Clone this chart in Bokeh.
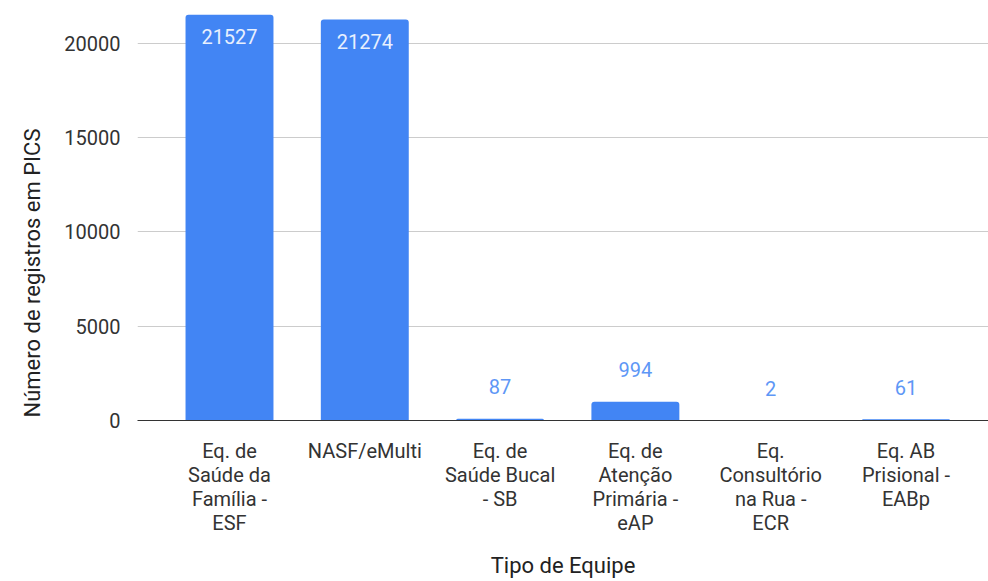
from bokeh.plotting import figure
from bokeh.models import ColumnDataSource, Range1d, FixedTicker, LabelSet, Title
from bokeh.core.properties import value
from bokeh.embed import file_html
from bokeh.resources import INLINE

categories = [
    "Eq. de\nSaúde da\nFamília -\nESF",
    "NASF/eMulti",
    "Eq. de\nSaúde Bucal\n- SB",
    "Eq. de\nAtenção\nPrimária -\neAP",
    "Eq.\nConsultório\nna Rua -\nECR",
    "Eq. AB\nPrisional -\nEABp",
]
values = [21527, 21274, 87, 994, 2, 61]
y_ticks = [0, 5000, 10000, 15000, 20000]
y_title = "Número de registros em PICS"
x_title = "Tipo de Equipe"

FONT = "Roboto"
BAR = "#4285F4"

xs = list(range(len(categories)))
src = ColumnDataSource(dict(x=xs, top=values))

inside = [i for i, v in enumerate(values) if v > 5000]
outside = [i for i, v in enumerate(values) if v <= 5000]
src_in = ColumnDataSource(dict(x=[xs[i] for i in inside], y=[values[i] for i in inside],
                               t=[str(values[i]) for i in inside]))
src_out = ColumnDataSource(dict(x=[xs[i] for i in outside], y=[values[i] for i in outside],
                                t=[str(values[i]) for i in outside]))

p = figure(width=988, height=581, output_backend="svg", toolbar_location=None,
           x_range=Range1d(-0.68, 5.61), y_range=Range1d(0, 21750),
           min_border_left=137, min_border_right=0, min_border_top=10, min_border_bottom=161)
p.outline_line_color = None
p.background_fill_color = "white"

p.vbar(x="x", top="top", width=0.65, source=src, color=BAR, line_color=None,
       border_radius=(3, 3, 0, 0))

p.add_layout(LabelSet(x="x", y="y", text="t", source=src_in, y_offset=-22,
                      text_align="center", text_baseline="middle",
                      text_color="#e8f0fe", text_font=value(FONT), text_font_size="20px"))
p.add_layout(LabelSet(x="x", y="y", text="t", source=src_out, y_offset=32,
                      text_align="center", text_baseline="middle",
                      text_color="#5e97f6", text_font=value(FONT), text_font_size="20px"))

# y axis title as a side title, starting near the bottom of the frame as in the reference
p.add_layout(Title(text=y_title, align="left", offset=3, standoff=33,
                   text_font=FONT, text_font_size="22px", text_font_style="normal",
                   text_color="#222222"), "left")

# y axis
p.yaxis.ticker = FixedTicker(ticks=y_ticks)
p.yaxis.axis_line_color = None
p.yaxis.major_tick_line_color = None
p.yaxis.minor_tick_line_color = None
p.yaxis.major_label_standoff = 11
p.yaxis.major_label_text_font = FONT
p.yaxis.major_label_text_font_size = "20px"
p.yaxis.major_label_text_color = "#333333"

# x axis
p.xaxis.ticker = FixedTicker(ticks=xs)
p.xaxis.major_label_overrides = {i: c for i, c in zip(xs, categories)}
p.xaxis.axis_line_color = "#333333"
p.xaxis.axis_line_width = 1
p.xaxis.major_tick_line_color = None
p.xaxis.minor_tick_line_color = None
p.xaxis.major_label_standoff = 12
p.xaxis.major_label_text_font = FONT
p.xaxis.major_label_text_font_size = "20px"
p.xaxis.major_label_text_color = "#333333"
p.xaxis.major_label_text_line_height = 1.0
p.xaxis.axis_label = x_title
p.xaxis.axis_label_text_font = FONT
p.xaxis.axis_label_text_font_size = "22px"
p.xaxis.axis_label_text_font_style = "normal"
p.xaxis.axis_label_text_color = "#222222"
p.xaxis.axis_label_standoff = 15

p.xgrid.grid_line_color = None
p.ygrid.grid_line_color = "#cccccc"
p.ygrid.grid_line_width = 1

open("out.html", "w").write(file_html(p, INLINE))
